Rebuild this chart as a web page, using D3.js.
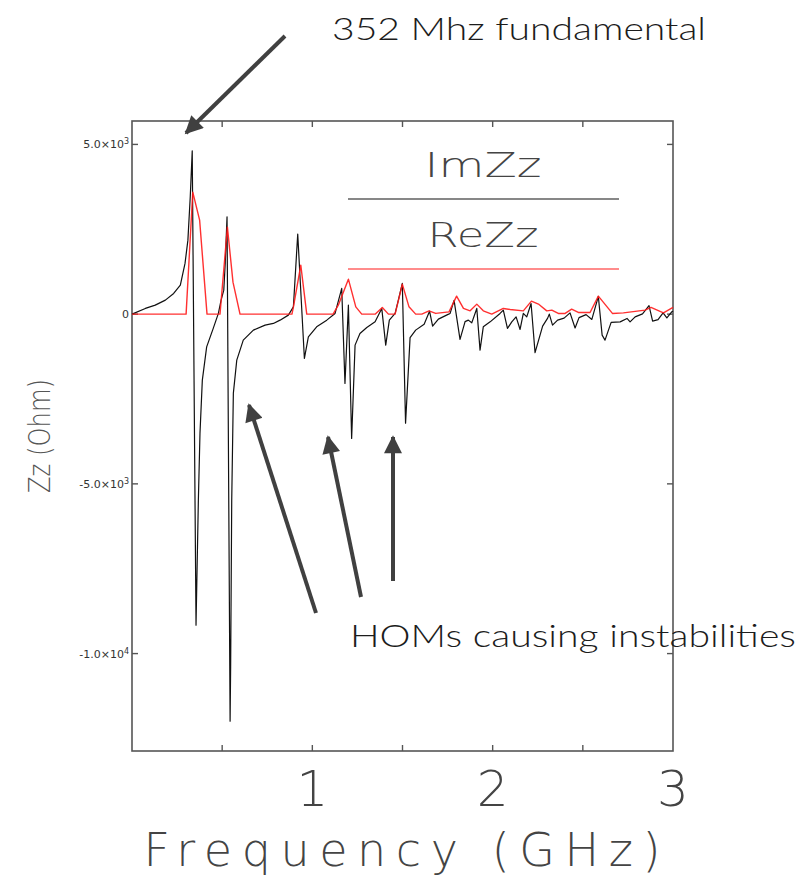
<!DOCTYPE html>
<html>
<head>
<meta charset="utf-8">
<script src="https://cdn.jsdelivr.net/npm/d3@7"></script>
<style>
  body { margin: 0; background: #fff; }
  svg { display: block; }
</style>
</head>
<body>
<div id="chart"></div>
<script>
// ImZz (black) - frequency in GHz, impedance in Ohm
var imFreq = [0, 0.074, 0.129, 0.185, 0.231, 0.268, 0.294, 0.310, 0.323, 0.334,
  0.355, 0.368, 0.377, 0.390, 0.414, 0.451, 0.479, 0.494, 0.509, 0.517, 0.527,
  0.544, 0.547, 0.553, 0.562, 0.581, 0.617, 0.673, 0.738, 0.784, 0.821, 0.867,
  0.895, 0.919, 0.956, 0.978, 1.024, 1.080, 1.126, 1.163, 1.181, 1.200, 1.218,
  1.237, 1.264, 1.302, 1.348, 1.385, 1.407, 1.427, 1.459, 1.477, 1.499, 1.517,
  1.542, 1.573, 1.620, 1.650, 1.667, 1.699, 1.750, 1.764, 1.786, 1.819, 1.847,
  1.865, 1.884, 1.912, 1.930, 1.948, 1.986, 2.041, 2.059, 2.082, 2.106, 2.130,
  2.152, 2.170, 2.189, 2.213, 2.235, 2.277, 2.305, 2.314, 2.332, 2.360, 2.396,
  2.429, 2.457, 2.479, 2.518, 2.550, 2.586, 2.607, 2.623, 2.657, 2.707, 2.745,
  2.762, 2.790, 2.831, 2.867, 2.887, 2.917, 2.945, 2.966, 2.993, 3.0];
var imZz = [0, 168, 265, 412, 610, 854, 1494, 2180, 3456, 4811,
  -9162, -5480, -3506, -1944, -963, -412, 21, 412, 707, 1502, 2866,
  -11990, -10390, -5480, -2336, -1355, -766, -471, -324, -274, -177, -29,
  215, 2357, -1305, -669, -374, -177, 21, 757, -2042, 265, -3662,
  -913, -569, -392, -227, 168, -913, -177, 21, 412, 904, -3211,
  -692, -471, -295, 88, -354, -147, -15, 21, 404, -745, -221,
  -177, -256, 168, -1061, -374, -227, 21, 118, -421, -227, -80,
  -451, 21, -80, 315, -1134, -354, -118, 0, -324, -177, -118,
  38, -407, -103, -15, -156, 521, -619, -766, -242, -227, -127,
  -227, -80, 9, 250, -206, -162, 38, -112, 68, 88];

// ReZz (red)
var reFreq = [0, 0.300, 0.337, 0.375, 0.416, 0.488, 0.529, 0.560, 0.599, 0.887,
  0.895, 0.936, 0.969, 1.115, 1.144, 1.200, 1.241, 1.274, 1.348, 1.388,
  1.422, 1.459, 1.499, 1.536, 1.573, 1.607, 1.647, 1.684, 1.758, 1.800,
  1.838, 1.875, 1.912, 1.948, 1.995, 2.059, 2.097, 2.170, 2.215, 2.257,
  2.300, 2.328, 2.364, 2.402, 2.438, 2.475, 2.540, 2.586, 2.664, 2.725,
  2.845, 2.878, 2.947, 3.0];
var reZz = [0, 0, 3594, 2769, 0, 0, 2563, 943, 0, 0,
  206, 1444, 0, 0, 265, 1031, 215, 0, 0, 197,
  0, 0, 884, 215, 0, 0, 97, 21, 68, 530,
  168, 97, 295, 97, 0, 168, 138, 97, 383, 286,
  97, 118, 21, 21, 147, 50, 50, 530, 21, 38,
  118, 200, 38, 197];

var xTicks = [0.5, 1, 1.5, 2, 2.5];
var xTickLabels = [1, 2, 3];
var yTicks = [5000, 0, -5000, -10000];
var yTickMant = ["5.0", "0", "-5.0", "-1.0"];
var yTickExp = ["3", "", "3", "4"];

var seriesNames = ["ImZz", "ReZz"];
var seriesColors = ["#111111", "#ff1a1a"];

var width = 812, height = 876;
var plot = {left: 132, right: 673, top: 121, bottom: 751};
var lightFont = "'DejaVu Sans', 'Liberation Sans', sans-serif";
var noteFont = "Lato, 'Open Sans', 'Noto Sans', sans-serif";

var svg = d3.select("#chart")
    .append("svg")
    .attr("width", width)
    .attr("height", height);

var x = d3.scaleLinear().domain([0, 3]).range([plot.left, plot.right]);
var y = d3.scaleLinear().domain([-12870, 5690]).range([plot.bottom, plot.top]);

// frame
svg.append("rect")
    .attr("x", plot.left)
    .attr("y", plot.top)
    .attr("width", plot.right - plot.left)
    .attr("height", plot.bottom - plot.top)
    .attr("fill", "none")
    .attr("stroke", "#555")
    .attr("stroke-width", 1.6);

// inward ticks on all four sides
var tickLen = 6;
var tickG = svg.append("g").attr("stroke", "#555").attr("stroke-width", 1.4);
xTicks.forEach(function(t) {
  tickG.append("line").attr("x1", x(t)).attr("x2", x(t))
      .attr("y1", plot.bottom).attr("y2", plot.bottom - tickLen);
  tickG.append("line").attr("x1", x(t)).attr("x2", x(t))
      .attr("y1", plot.top).attr("y2", plot.top + tickLen);
});
yTicks.forEach(function(t) {
  tickG.append("line").attr("y1", y(t)).attr("y2", y(t))
      .attr("x1", plot.left).attr("x2", plot.left + tickLen);
  tickG.append("line").attr("y1", y(t)).attr("y2", y(t))
      .attr("x1", plot.right).attr("x2", plot.right - tickLen);
});

// x tick labels
svg.selectAll(".xlab")
    .data(xTickLabels)
    .enter()
    .append("text")
    .attr("x", function(d) { return x(d); })
    .attr("y", 806)
    .attr("text-anchor", "middle")
    .attr("font-family", lightFont)
    .attr("font-weight", 200)
    .attr("font-size", 50)
    .attr("fill", "#444")
    .text(function(d) { return d; });

// y tick labels
yTicks.forEach(function(t, i) {
  var txt = svg.append("text")
      .attr("x", 129)
      .attr("y", y(t) + 4)
      .attr("text-anchor", "end")
      .attr("font-family", lightFont)
      .attr("font-size", 11)
      .attr("fill", "#333");
  if (yTickExp[i]) {
    txt.append("tspan").text(yTickMant[i] + "\u00d710");
    txt.append("tspan").attr("dy", -4).attr("font-size", 8).text(yTickExp[i]);
  } else {
    txt.text(yTickMant[i]);
  }
});

// axis titles
svg.append("text")
    .attr("x", 402)
    .attr("y", 866)
    .attr("text-anchor", "middle")
    .attr("font-family", lightFont)
    .attr("font-weight", 200)
    .attr("font-size", 46)
    .attr("fill", "#444")
    .attr("textLength", 517)
    .attr("lengthAdjust", "spacing")
    .text("Frequency (GHz)");

svg.append("text")
    .attr("transform", "translate(50,436) rotate(-90)")
    .attr("text-anchor", "middle")
    .attr("font-family", lightFont)
    .attr("font-weight", 200)
    .attr("font-size", 30)
    .attr("fill", "#555")
    .attr("textLength", 114)
    .attr("lengthAdjust", "spacingAndGlyphs")
    .text("Zz (Ohm)");

// series
var line = d3.line()
    .x(function(d) { return x(d[0]); })
    .y(function(d) { return y(d[1]); });

svg.append("path")
    .datum(d3.zip(imFreq, imZz))
    .attr("fill", "none")
    .attr("stroke", seriesColors[0])
    .attr("stroke-width", 1.2)
    .attr("stroke-linejoin", "round")
    .attr("d", line);

svg.append("path")
    .datum(d3.zip(reFreq, reZz))
    .attr("fill", "none")
    .attr("stroke", seriesColors[1])
    .attr("stroke-width", 1.4)
    .attr("stroke-opacity", 0.9)
    .attr("stroke-linejoin", "round")
    .attr("d", line);

// legend
var legendY = [177, 247];
var legendLineY = [199, 269];
var legendW = [117, 111];
seriesNames.forEach(function(name, i) {
  svg.append("text")
      .attr("x", 483)
      .attr("y", legendY[i])
      .attr("text-anchor", "middle")
      .attr("font-family", lightFont)
      .attr("font-weight", 200)
      .attr("font-size", 33)
      .attr("fill", "#444")
      .attr("textLength", legendW[i])
      .attr("lengthAdjust", "spacingAndGlyphs")
      .text(name);
  svg.append("line")
      .attr("x1", 348).attr("x2", 619)
      .attr("y1", legendLineY[i]).attr("y2", legendLineY[i])
      .attr("stroke", seriesColors[i])
      .attr("stroke-width", 1.2);
});

// annotations
var defs = svg.append("defs");
defs.append("marker")
    .attr("id", "head")
    .attr("viewBox", "0 0 10 10")
    .attr("refX", 9)
    .attr("refY", 5)
    .attr("markerUnits", "userSpaceOnUse")
    .attr("markerWidth", 20)
    .attr("markerHeight", 18)
    .attr("orient", "auto")
    .append("path")
    .attr("d", "M0,0 L10,5 L0,10 Z")
    .attr("fill", "#404040");

var arrows = [
  [285, 36, 186, 133],
  [316, 613, 249, 405],
  [361, 597, 328, 437],
  [393, 581, 393, 437]
];
svg.selectAll(".arrow")
    .data(arrows)
    .enter()
    .append("line")
    .attr("x1", function(d) { return d[0]; })
    .attr("y1", function(d) { return d[1]; })
    .attr("x2", function(d) { return d[2]; })
    .attr("y2", function(d) { return d[3]; })
    .attr("stroke", "#404040")
    .attr("stroke-width", 4)
    .attr("marker-end", "url(#head)");

svg.append("text")
    .attr("x", 332)
    .attr("y", 40)
    .attr("font-family", noteFont)
    .attr("font-weight", 300)
    .attr("font-size", 31)
    .attr("fill", "#1c1c1c")
    .attr("textLength", 374)
    .attr("lengthAdjust", "spacingAndGlyphs")
    .text("352 Mhz fundamental");

svg.append("text")
    .attr("x", 350)
    .attr("y", 647)
    .attr("font-family", noteFont)
    .attr("font-weight", 300)
    .attr("font-size", 31)
    .attr("fill", "#1c1c1c")
    .attr("textLength", 446)
    .attr("lengthAdjust", "spacingAndGlyphs")
    .text("HOMs causing instabilities");
</script>
</body>
</html>
